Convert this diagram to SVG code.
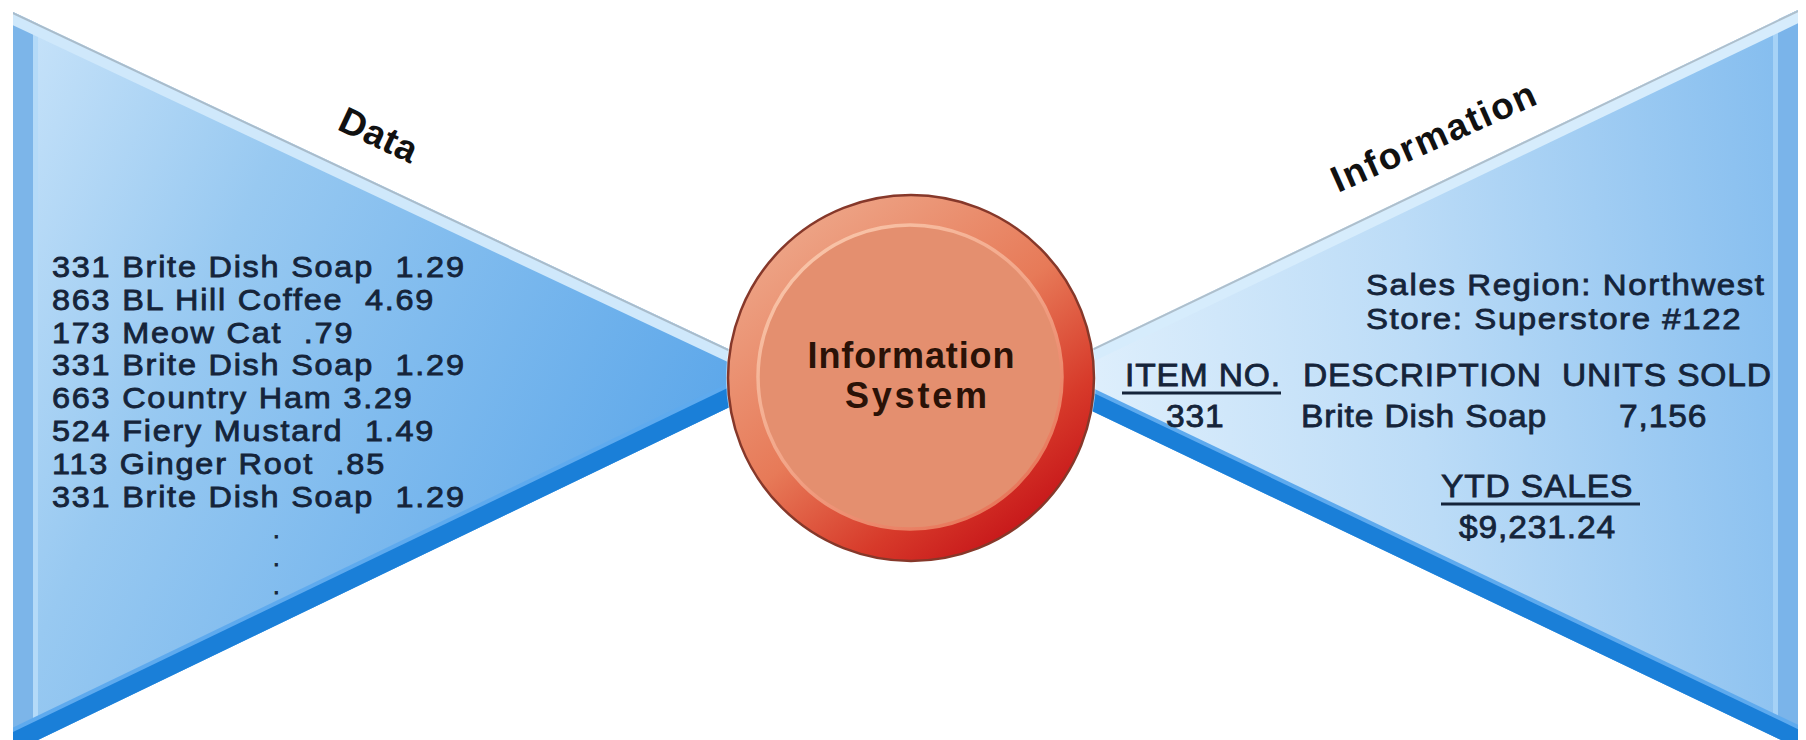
<svg xmlns="http://www.w3.org/2000/svg" width="1806" height="740" viewBox="0 0 1806 740">
  <style>
    .t { font-family: "Liberation Sans", Arial, sans-serif; fill: #15243a; stroke: #15243a; stroke-width: 0.8px; }
    .s1 { font-size: 29.5px; letter-spacing: 1.6px; }
    .s2 { font-size: 30px; letter-spacing: 1.45px; }
    .s3 { font-size: 32px; letter-spacing: 0.8px; }
    .dot { font-size: 24px; }
    .lbl { font-family: "Liberation Sans", Arial, sans-serif; font-weight: bold; font-size: 37px; fill: #111111; }
    .cir { font-family: "Liberation Sans", Arial, sans-serif; font-weight: bold; font-size: 36px; fill: #2a1207; text-anchor: middle; }
    .ul { stroke: #15243a; stroke-width: 3; }
  </style>
  <defs>
    <linearGradient id="gL" gradientUnits="userSpaceOnUse" x1="13" y1="60" x2="720" y2="400">
      <stop offset="0" stop-color="#c6e2f9"/>
      <stop offset="0.35" stop-color="#98c9f1"/>
      <stop offset="1" stop-color="#5ea8ea"/>
    </linearGradient>
    <linearGradient id="gR" gradientUnits="userSpaceOnUse" x1="1030" y1="380" x2="1798" y2="300">
      <stop offset="0" stop-color="#e4f2fd"/>
      <stop offset="0.5" stop-color="#bcdcf7"/>
      <stop offset="1" stop-color="#86beef"/>
    </linearGradient>
    <linearGradient id="gRing" x1="0.2" y1="0.1" x2="0.85" y2="0.95">
      <stop offset="0" stop-color="#eda284"/>
      <stop offset="0.45" stop-color="#e77a58"/>
      <stop offset="0.75" stop-color="#d73a2a"/>
      <stop offset="1" stop-color="#c30e16"/>
    </linearGradient>
    <linearGradient id="gRim" x1="0.2" y1="0.1" x2="0.8" y2="0.9">
      <stop offset="0" stop-color="#f8c2a6"/>
      <stop offset="0.5" stop-color="#f2a487"/>
      <stop offset="1" stop-color="#e8785c"/>
    </linearGradient>
    <clipPath id="cL"><polygon points="13,12 13,752 790,378"/></clipPath>
    <clipPath id="cR"><polygon points="1798,10 1798,748 1027,380"/></clipPath>
  </defs>

  <g id="data-funnel">
    <polygon points="13,12 13,752 790,378" fill="url(#gL)"/>
    <g clip-path="url(#cL)">
      <rect x="13" y="0" width="20" height="760" fill="#7cb5e9"/>
      <rect x="33" y="0" width="5" height="760" fill="#b4daf8"/>
      <line x1="13" y1="12" x2="790" y2="378" stroke="#cfe8fb" stroke-width="24"/>
      <line x1="13" y1="12" x2="790" y2="378" stroke="#a9bccb" stroke-width="4"/>
      <line x1="13" y1="752" x2="790" y2="378" stroke="#5eaaee" stroke-width="44"/>
      <line x1="13" y1="752" x2="790" y2="378" stroke="#1a7fd8" stroke-width="36"/>
    </g>
    <text class="lbl" transform="translate(336,129) rotate(25)" textLength="82">Data</text>
    <text class="t s1" transform="translate(52,0) scale(1.1,1)">
      <tspan x="0" y="277">331 Brite Dish Soap&#160;&#160;1.29</tspan>
      <tspan x="0" y="310">863 BL Hill Coffee&#160;&#160;4.69</tspan>
      <tspan x="0" y="343">173 Meow Cat&#160;&#160;.79</tspan>
      <tspan x="0" y="375">331 Brite Dish Soap&#160;&#160;1.29</tspan>
      <tspan x="0" y="408">663 Country Ham 3.29</tspan>
      <tspan x="0" y="441">524 Fiery Mustard&#160;&#160;1.49</tspan>
      <tspan x="0" y="474">113 Ginger Root&#160;&#160;.85</tspan>
      <tspan x="0" y="507">331 Brite Dish Soap&#160;&#160;1.29</tspan>
    </text>
    <text class="t dot">
      <tspan x="273" y="538">.</tspan>
      <tspan x="273" y="566">.</tspan>
      <tspan x="273" y="594">.</tspan>
    </text>
  </g>

  <g id="information-funnel">
    <polygon points="1798,10 1798,748 1027,380" fill="url(#gR)"/>
    <g clip-path="url(#cR)">
      <rect x="1778" y="0" width="22" height="760" fill="#7ab4ea"/>
      <rect x="1773" y="0" width="5" height="760" fill="#a6d2f6"/>
      <line x1="1798" y1="10" x2="1027" y2="380" stroke="#d6ecfc" stroke-width="24"/>
      <line x1="1798" y1="10" x2="1027" y2="380" stroke="#aebfcc" stroke-width="4"/>
      <line x1="1798" y1="748" x2="1027" y2="380" stroke="#5eaaee" stroke-width="42"/>
      <line x1="1798" y1="748" x2="1027" y2="380" stroke="#1a7fd8" stroke-width="34"/>
    </g>
    <text class="lbl" transform="translate(1338,193) rotate(-24)" textLength="220">Information</text>
    <text class="t s2" transform="translate(1366,0) scale(1.1,1)">
      <tspan x="0" y="295">Sales Region: Northwest</tspan>
      <tspan x="0" y="329">Store: Superstore #122</tspan>
    </text>
    <text class="t s3" transform="translate(1125,386) scale(1.05,1)">ITEM NO.</text>
    <text class="t s3" transform="translate(1303,386) scale(1.05,1)">DESCRIPTION</text>
    <text class="t s3" transform="translate(1562,386) scale(1.05,1)">UNITS SOLD</text>
    <text class="t s3" transform="translate(1166,427) scale(1.05,1)">331</text>
    <text class="t s3" transform="translate(1301,427) scale(1.05,1)">Brite Dish Soap</text>
    <text class="t s3" transform="translate(1619,427) scale(1.05,1)">7,156</text>
    <text class="t s3" transform="translate(1441,497) scale(1.05,1)">YTD SALES</text>
    <text class="t s3" transform="translate(1459,538) scale(1.05,1)">$9,231.24</text>
    <line class="ul" x1="1122" y1="393" x2="1281" y2="393"/>
    <line class="ul" x1="1441" y1="504" x2="1640" y2="504"/>
  </g>

  <g id="information-system">
    <circle cx="911" cy="378" r="185" fill="#ffffff" opacity="0.6"/>
    <circle cx="911" cy="378" r="183" fill="url(#gRing)" stroke="#86382a" stroke-width="2.5"/>
    <circle cx="910" cy="377" r="152" fill="#e48f6f" stroke="url(#gRim)" stroke-width="3.5"/>
    <text class="cir" x="911" y="368" textLength="207">Information</text>
    <text class="cir" x="916" y="408" textLength="142">System</text>
  </g>
</svg>
